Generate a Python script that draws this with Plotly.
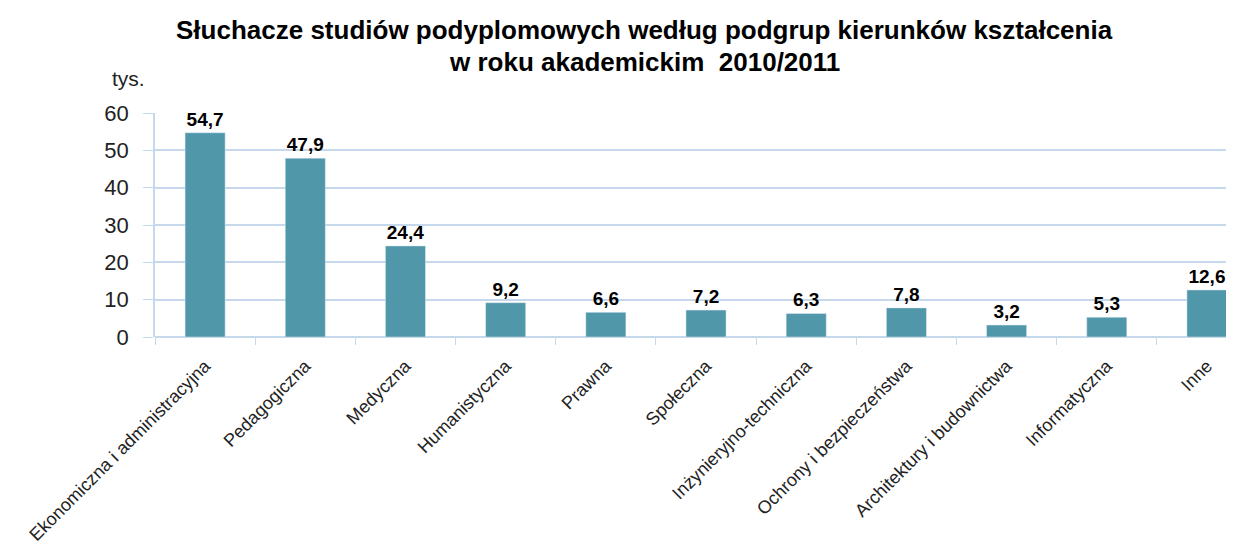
import plotly.graph_objects as go

categories = [
    "Ekonomiczna i administracyjna",
    "Pedagogiczna",
    "Medyczna",
    "Humanistyczna",
    "Prawna",
    "Społeczna",
    "Inżynieryjno-techniczna",
    "Ochrony i bezpieczeństwa",
    "Architektury i budownictwa",
    "Informatyczna",
    "Inne",
]
values = [54.7, 47.9, 24.4, 9.2, 6.6, 7.2, 6.3, 7.8, 3.2, 5.3, 12.6]
y_ticks = [0, 10, 20, 30, 40, 50, 60]

title_lines = [
    "Słuchacze studiów podyplomowych według podgrup kierunków kształcenia",
    "w roku akademickim  2010/2011",
]

grid_color = "#c6d9ec"

fig = go.Figure()
fig.add_trace(go.Bar(
    x=categories,
    y=values,
    width=0.4,
    marker=dict(color="#4f97a9"),
    texttemplate="%{y:.1f}",
    textposition="outside",
    textfont=dict(family="Liberation Sans Narrow, Arial", size=19, color="black", weight="bold"),
    cliponaxis=False,
))

# the page body has an 8px margin, so the figure is drawn smaller to fit the window
fig.update_layout(
    width=1218,
    height=533,
    separators=", ",
    plot_bgcolor="white",
    paper_bgcolor="white",
    margin=dict(l=147, r=0, t=105, b=204, autoexpand=False),
    showlegend=False,
    bargap=0.6,
    font=dict(family="Liberation Sans, Arial", color="black"),
)

fig.update_xaxes(
    range=[-0.5, 10.19],
    automargin=False,
    tickangle=-45,
    tickson="boundaries",
    ticks="outside",
    ticklen=7,
    tickcolor=grid_color,
    ticklabelstandoff=14,
    showline=False,
    showgrid=False,
    tickfont=dict(size=18, color="#222"),
)
fig.update_yaxes(
    range=[0, 60],
    automargin=False,
    tickvals=y_ticks,
    ticks="outside",
    ticklen=10,
    tickcolor=grid_color,
    ticklabelstandoff=10,
    showgrid=True,
    gridcolor=grid_color,
    gridwidth=1.5,
    zeroline=True,
    zerolinecolor=grid_color,
    zerolinewidth=1.5,
    showline=True,
    linecolor=grid_color,
    linewidth=1.5,
    tickfont=dict(size=22, color="#222"),
)

# title as two centred lines
for line, ypos in zip(title_lines, [1.3705, 1.2277]):
    fig.add_annotation(
        text=line,
        xref="paper", yref="paper",
        x=0.4575, y=ypos,
        xanchor="center", yanchor="middle",
        showarrow=False,
        font=dict(family="Liberation Sans Narrow, Arial Narrow, Liberation Sans", size=26,
                  color="black", weight="bold"),
    )

fig.add_annotation(
    text="tys.",
    xref="paper", yref="paper",
    x=-0.042, y=1.156,
    xanchor="left", yanchor="middle",
    showarrow=False,
    font=dict(size=21, color="#222"),
)

fig.write_html("out.html")
